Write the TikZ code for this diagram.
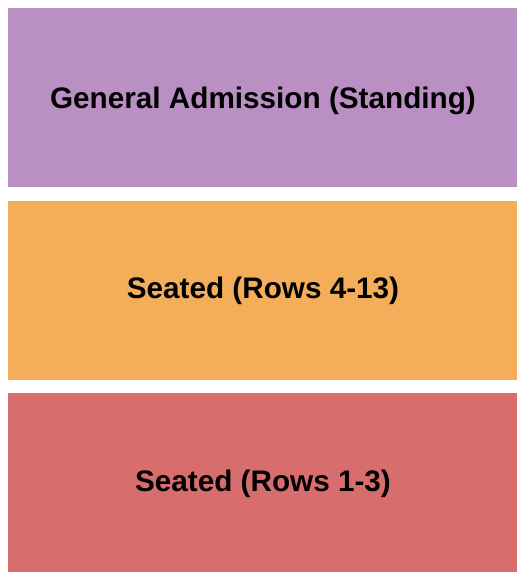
\documentclass[tikz,border=0pt]{standalone}
\usepackage{fontspec}
\setmainfont{Liberation Sans}
\definecolor{gapurple}{RGB}{186,143,196}
\definecolor{seatorange}{RGB}{244,174,90}
\definecolor{seatred}{RGB}{216,109,109}
\begin{document}
\begin{tikzpicture}[x=1pt,y=1pt,
  section/.style={inner sep=0pt,anchor=base,font=\bfseries\fontsize{29.7}{34}\selectfont,text=black}]
\useasboundingbox[fill=white] (0,0) rectangle (525,580);
\fill[gapurple] (8,393) rectangle (517,572);
\fill[seatorange] (8,200) rectangle (517,379);
\fill[seatred] (8,8) rectangle (517,187);
\node[section] (ga) at (263,471.7) {General Admission (Standing)};
\node[section] (s413) at (263,281.7) {Seated (Rows 4-13)};
\node[section] (s13) at (263,88) {Seated (Rows 1-3)};
\end{tikzpicture}
\end{document}
